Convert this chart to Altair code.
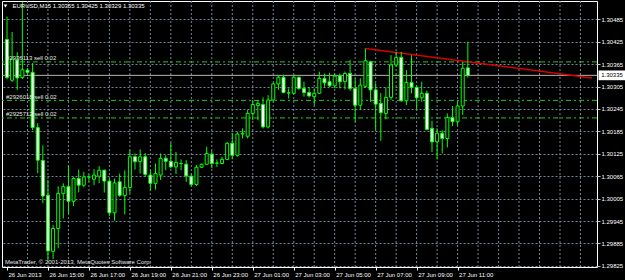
import json
import altair as alt
import pandas as pd

# ---- OHLC of EURUSD M15 bars (bar 0 = 26 Jun 2013 13:00) ----
opens = [1.30431, 1.30322, 1.30376, 1.30329, 1.30349, 1.30343, 1.30195, 1.30107, 1.30014, 1.29864,
         1.29925, 1.30019, 1.30037, 1.29998, 1.30059, 1.30041, 1.30063, 1.30057, 1.30065, 1.30081,
         1.30052, 1.29967, 1.30050, 1.30013, 1.30035, 1.30117, 1.30104, 1.30117, 1.30068, 1.30046,
         1.30068, 1.30113, 1.30105, 1.30090, 1.30099, 1.30097, 1.30065, 1.30043, 1.30089, 1.30097,
         1.30124, 1.30100, 1.30099, 1.30110, 1.30153, 1.30121, 1.30178, 1.30172, 1.30233, 1.30254,
         1.30257, 1.30197, 1.30269, 1.30312, 1.30330, 1.30288, 1.30287, 1.30330, 1.30300, 1.30289,
         1.30278, 1.30287, 1.30327, 1.30318, 1.30307, 1.30333, 1.30318, 1.30340, 1.30300, 1.30255,
         1.30306, 1.30371, 1.30296, 1.30260, 1.30233, 1.30276, 1.30363, 1.30383, 1.30267, 1.30316,
         1.30303, 1.30275, 1.30287, 1.30193, 1.30157, 1.30180, 1.30166, 1.30222, 1.30211, 1.30253,
         1.30355]
highs = [1.30492, 1.30451, 1.30397, 1.30531, 1.30355, 1.30368, 1.30207, 1.30148, 1.30055, 1.29934,
         1.30038, 1.30046, 1.30095, 1.30063, 1.30083, 1.30077, 1.30070, 1.30084, 1.30092, 1.30083,
         1.30059, 1.30059, 1.30072, 1.30081, 1.30135, 1.30126, 1.30137, 1.30127, 1.30081, 1.30099,
         1.30126, 1.30121, 1.30154, 1.30130, 1.30110, 1.30108, 1.30072, 1.30095, 1.30099, 1.30144,
         1.30133, 1.30110, 1.30117, 1.30157, 1.30181, 1.30184, 1.30193, 1.30242, 1.30269, 1.30269,
         1.30276, 1.30282, 1.30315, 1.30336, 1.30336, 1.30300, 1.30336, 1.30331, 1.30318, 1.30303,
         1.30300, 1.30345, 1.30340, 1.30342, 1.30340, 1.30340, 1.30345, 1.30376, 1.30327, 1.30327,
         1.30407, 1.30374, 1.30314, 1.30288, 1.30303, 1.30389, 1.30398, 1.30398, 1.30349, 1.30389,
         1.30309, 1.30318, 1.30294, 1.30213, 1.30193, 1.30188, 1.30233, 1.30253, 1.30264, 1.30371,
         1.30425]
lows = [1.30325, 1.30317, 1.30296, 1.30325, 1.30338, 1.30188, 1.30073, 1.29993, 1.29841, 1.29843,
        1.29872, 1.29952, 1.29965, 1.29985, 1.30022, 1.30035, 1.30050, 1.30041, 1.30046, 1.30021,
        1.29958, 1.29946, 1.30010, 1.29963, 1.30020, 1.30083, 1.30072, 1.30063, 1.30026, 1.30029,
        1.30055, 1.30081, 1.30086, 1.30071, 1.30081, 1.30050, 1.30037, 1.30039, 1.30087, 1.30095,
        1.30086, 1.30090, 1.30097, 1.30108, 1.30110, 1.30117, 1.30166, 1.30166, 1.30215, 1.30215,
        1.30193, 1.30193, 1.30264, 1.30296, 1.30287, 1.30273, 1.30284, 1.30296, 1.30278, 1.30276,
        1.30255, 1.30285, 1.30304, 1.30304, 1.30300, 1.30300, 1.30297, 1.30294, 1.30211, 1.30242,
        1.30301, 1.30264, 1.30188, 1.30160, 1.30217, 1.30269, 1.30358, 1.30264, 1.30255, 1.30287,
        1.30242, 1.30264, 1.30188, 1.30130, 1.30110, 1.30126, 1.30142, 1.30199, 1.30202, 1.30229,
        1.30329]
closes = [1.30329, 1.30379, 1.30328, 1.30350, 1.30343, 1.30195, 1.30108, 1.30012, 1.29865, 1.29925,
          1.30019, 1.30037, 1.29998, 1.30059, 1.30041, 1.30063, 1.30063, 1.30068, 1.30081, 1.30052,
          1.29967, 1.30047, 1.30014, 1.30035, 1.30117, 1.30104, 1.30117, 1.30070, 1.30046, 1.30072,
          1.30113, 1.30105, 1.30090, 1.30102, 1.30099, 1.30066, 1.30043, 1.30089, 1.30097, 1.30126,
          1.30099, 1.30100, 1.30110, 1.30153, 1.30121, 1.30178, 1.30180, 1.30233, 1.30257, 1.30260,
          1.30197, 1.30269, 1.30312, 1.30330, 1.30289, 1.30288, 1.30330, 1.30300, 1.30289, 1.30280,
          1.30287, 1.30327, 1.30315, 1.30307, 1.30333, 1.30318, 1.30340, 1.30300, 1.30255, 1.30309,
          1.30374, 1.30296, 1.30258, 1.30235, 1.30276, 1.30363, 1.30383, 1.30267, 1.30316, 1.30303,
          1.30275, 1.30287, 1.30190, 1.30157, 1.30180, 1.30166, 1.30222, 1.30211, 1.30253, 1.30354,
          1.30335]

# ---- axis labels ----
time_labels = ["26 Jun 2013", "26 Jun 15:00", "26 Jun 17:00", "26 Jun 19:00", "26 Jun 21:00",
               "26 Jun 23:00", "27 Jun 01:00", "27 Jun 03:00", "27 Jun 05:00", "27 Jun 07:00",
               "27 Jun 09:00", "27 Jun 11:00"]
time_label_bars = [0, 8, 16, 24, 32, 40, 48, 56, 64, 72, 80, 88]
hour_grid_bars = [4, 8, 12, 16, 20, 24, 28, 32, 36, 40, 44, 48, 52, 56, 60, 64, 68, 72, 76, 80,
                  84, 88, 92, 96, 100, 104, 108, 112]
price_ticks = [1.29825, 1.29885, 1.29945, 1.30005, 1.30065, 1.30125, 1.30185, 1.30245,
               1.30305, 1.30365, 1.30425, 1.30485]

# ---- objects on chart ----
order_labels = ["#2936113 sell 0.02", "#2926018 sell 0.02", "#2925712 sell 0.02"]
order_prices = [1.30371, 1.30268, 1.30221]
bid_price = 1.30335
trend_bars = [70, 114.25]
trend_prices = [1.30407, 1.30328]
header_text = "EURUSD,M15  1.30355 1.30425 1.30329 1.30335"
copyright_text = "MetaTrader, \u00a9 2001-2013, MetaQuotes Software Corp."

FONT = "Liberation Sans"
LIME = "#00ff00"
GRID = "#778899"

candles = pd.DataFrame({"bar": list(range(len(opens))), "open": opens, "high": highs,
                        "low": lows, "close": closes})
orders = pd.DataFrame({"price": order_prices, "label": order_labels})
bid_df = pd.DataFrame({"price": [bid_price], "label": [f"{bid_price:.5f}"]})
trend_df = pd.DataFrame({"bar": trend_bars, "price": trend_prices})
hour_df = pd.DataFrame({"bar": hour_grid_bars})

xscale = alt.Scale(domain=[0, 114.25], nice=False, zero=False)
yscale = alt.Scale(domain=[1.29822, 1.30534], nice=False, zero=False)

label_expr = json.dumps(time_labels) + "[round(datum.value / 8)]"

x_axis = alt.Axis(values=time_label_bars, labelExpr=label_expr, grid=False, domain=False,
                  tickColor="white", tickSize=3, labelColor="white", labelFont=FONT,
                  labelFontSize=6, labelAlign="left", labelBaseline="top", labelPadding=1,
                  labelOffset=1, labelOverlap=False, labelFlush=False, labelBound=False, title=None)
y_axis = alt.Axis(orient="right", values=price_ticks, format=".5f", grid=True, gridColor=GRID,
                  gridDash=[2, 2], gridWidth=1, domain=False, tickColor="#c8c8c8", tickSize=3,
                  labelColor="white", labelFont=FONT, labelFontSize=6, labelPadding=1,
                  labelOverlap=False, labelBound=False, title=None)


def X(field):
    return alt.X(field, scale=xscale, axis=x_axis, title=None)


def Y(field):
    return alt.Y(field, scale=yscale, axis=y_axis, title=None)


base = alt.Chart(candles)

wicks = base.mark_rule(color=LIME, strokeWidth=1, clip=True).encode(
    x=X("bar:Q"), y=Y("low:Q"), y2="high:Q")
bodies = base.mark_bar(size=3, stroke=LIME, strokeWidth=1, clip=True).encode(
    x=X("bar:Q"), y=Y("open:Q"), y2="close:Q",
    fill=alt.condition("datum.close < datum.open", alt.value("white"), alt.value("black")),
)

vgrid = alt.Chart(hour_df).mark_rule(color=GRID, strokeDash=[2, 2], strokeWidth=1).encode(
    x=X("bar:Q"))

order_lines = alt.Chart(orders).mark_rule(color="#22c822", strokeDash=[5, 3, 2, 3],
                                          strokeWidth=1).encode(y=Y("price:Q"))
order_text = alt.Chart(orders).mark_text(align="left", baseline="bottom", dy=-0.5,
                                         font=FONT, fontSize=6, color="#e6e6e6").encode(
    x=alt.value(4), y=Y("price:Q"), text="label:N")

bid_line = alt.Chart(bid_df).mark_rule(color="#b4b4b4", strokeWidth=1).encode(y=Y("price:Q"))

trend = alt.Chart(trend_df).mark_line(color="#d80000", strokeWidth=1.5, clip=True).encode(
    x=X("bar:Q"), y=Y("price:Q"))

bid_box = alt.Chart(bid_df).mark_point(
    shape="M-1,-0.36L1,-0.36L1,0.36L-1,0.36Z", filled=True, color="white", opacity=1,
    size=729, strokeWidth=0).encode(x=alt.value(610), y=Y("price:Q"))
bid_text = alt.Chart(bid_df).mark_text(align="center", baseline="middle", font=FONT,
                                       fontSize=6, color="black").encode(
    x=alt.value(610), y=Y("price:Q"), text="label:N")

header_df = pd.DataFrame({"t": [header_text]})
header = alt.Chart(header_df).mark_text(align="left", baseline="middle", font=FONT,
                                        fontSize=6, color="white").encode(
    x=alt.value(10.5), y=alt.value(5), text="t:N")
header_tri = alt.Chart(header_df).mark_point(shape="triangle-down", filled=True, color="white",
                                             size=14, opacity=1).encode(
    x=alt.value(3.5), y=alt.value(5))

copy_df = pd.DataFrame({"t": [copyright_text]})
copyright = alt.Chart(copy_df).mark_text(align="left", baseline="middle", font=FONT,
                                         fontSize=6, color="#e6e6e6").encode(
    x=alt.value(3), y=alt.value(261), text="t:N")

chart = alt.layer(
    vgrid, order_lines, bid_line, trend, wicks, bodies, order_text,
    bid_box, bid_text, header_tri, header, copyright,
).properties(
    width=595, height=266,
    padding={"left": 2, "top": 1, "right": 28, "bottom": 13},
    autosize=alt.AutoSizeParams(type="none"),
    background="black",
).configure_view(
    stroke="white", strokeWidth=1, fill="black",
).configure_axis(
    labelFont=FONT,
)

chart.save("out.html", embed_options={"renderer": "svg", "actions": False})
